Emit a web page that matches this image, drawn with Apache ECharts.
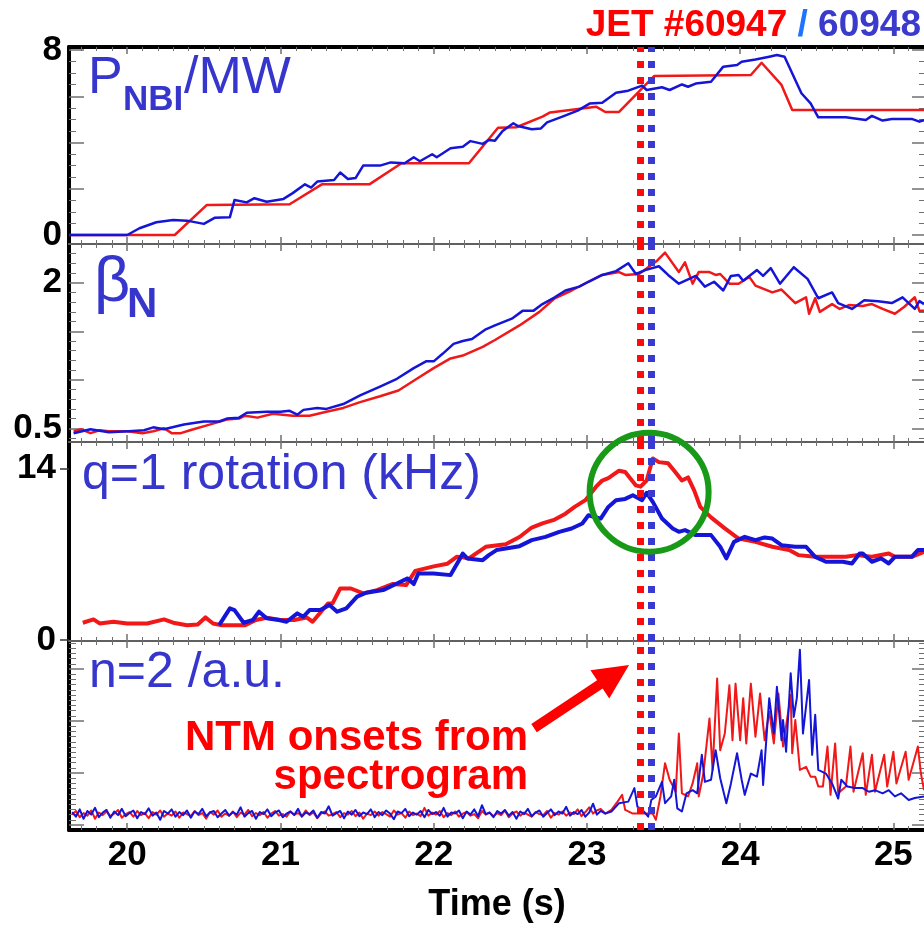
<!DOCTYPE html>
<html><head><meta charset="utf-8">
<script src="https://cdn.jsdelivr.net/npm/echarts@6/dist/echarts.min.js"></script>
<style>html,body{margin:0;padding:0;background:#fff}#c{width:924px;height:925px}</style>
</head><body><div id="c"></div>
<script>
// ---------------- DATA ----------------
const xTickLabels = [20, 21, 22, 23, 24, 25];
const onsetRed = 23.346;   // JET #60947 NTM onset (s)
const onsetBlue = 23.417;  // JET #60948 NTM onset (s)

// Panel tick labels
const pnbiYLabels = [0, 8];
const pnbiYMajor = [0, 2, 4, 6, 8];
const betaYLabels = [0.5, 2];
const betaYMajor = [0.5, 1, 1.5, 2];
const rotYLabels = [0, 14];
const rotYMajor = [0, 14];
const n2YMajor = [0, 1, 2, 3];

// P_NBI / MW
const pnbiRed = [[19.62,0],[20.31,0],[20.52,1.30],[21.06,1.33],[21.27,2.19],[21.58,2.19],[21.79,3.10],[22.23,3.10],[22.42,4.64],[22.54,4.66],[22.71,5.12],[22.76,5.30],[23.06,5.55],[23.12,5.32],[23.21,5.32],[23.36,6.34],[23.44,6.88],[24.07,6.92],[24.14,7.45],[24.27,6.49],[24.34,5.41],[25.20,5.41]];
const pnbiBlue = [[19.62,0],[20.00,0],[20.08,0.29],[20.19,0.55],[20.30,0.65],[20.39,0.62],[20.50,0.48],[20.57,0.74],[20.67,0.77],[20.70,1.51],[20.78,1.41],[20.83,1.59],[20.91,1.44],[21.02,1.56],[21.08,1.81],[21.16,2.19],[21.20,2.05],[21.24,2.31],[21.35,2.38],[21.39,2.70],[21.44,2.42],[21.49,2.46],[21.54,3.00],[21.65,3.00],[21.72,3.14],[21.81,3.10],[21.87,3.36],[21.91,3.19],[21.99,3.49],[22.02,3.36],[22.11,3.75],[22.19,3.82],[22.24,4.06],[22.32,3.94],[22.36,4.11],[22.40,4.08],[22.45,4.50],[22.52,4.83],[22.55,4.71],[22.64,4.57],[22.70,4.61],[22.74,4.87],[22.84,5.12],[22.94,5.38],[23.02,5.69],[23.10,5.72],[23.19,6.15],[23.27,6.24],[23.36,6.46],[23.39,6.27],[23.49,6.39],[23.54,6.27],[23.62,6.51],[23.66,6.41],[23.71,6.55],[23.81,6.63],[23.89,7.28],[23.98,7.35],[24.01,7.49],[24.10,7.59],[24.19,7.71],[24.24,7.78],[24.29,7.71],[24.36,6.70],[24.40,6.13],[24.46,5.69],[24.51,5.09],[24.69,5.09],[24.82,4.97],[24.86,5.15],[24.93,4.95],[24.99,5.02],[25.12,5.02],[25.17,4.90],[25.20,4.97]];

// beta_N
const betaRed = [[19.65,0.47],[19.70,0.49],[19.76,0.45],[19.82,0.48],[19.88,0.47],[20.00,0.47],[20.10,0.45],[20.17,0.47],[20.24,0.50],[20.29,0.45],[20.35,0.45],[20.41,0.48],[20.52,0.53],[20.65,0.59],[20.73,0.60],[20.77,0.63],[20.85,0.61],[20.95,0.65],[21.08,0.63],[21.19,0.63],[21.30,0.67],[21.41,0.71],[21.52,0.77],[21.65,0.83],[21.77,0.89],[21.89,1.01],[22.00,1.12],[22.11,1.22],[22.19,1.25],[22.32,1.34],[22.40,1.41],[22.56,1.56],[22.69,1.70],[22.79,1.84],[22.90,1.92],[23.01,2.01],[23.10,2.08],[23.21,2.11],[23.25,2.08],[23.34,2.09],[23.40,2.16],[23.46,2.23],[23.51,2.31],[23.60,2.11],[23.64,2.21],[23.69,1.99],[23.73,2.11],[23.80,2.11],[23.84,2.08],[23.87,2.09],[23.93,1.99],[23.99,1.99],[24.06,2.06],[24.10,1.97],[24.21,1.90],[24.27,1.93],[24.36,1.79],[24.43,1.85],[24.45,1.68],[24.49,1.84],[24.52,1.70],[24.60,1.78],[24.65,1.73],[24.71,1.77],[24.80,1.76],[24.86,1.78],[24.93,1.73],[25.01,1.68],[25.07,1.75],[25.14,1.85],[25.17,1.71],[25.20,1.71]];
const betaBlue = [[19.65,0.45],[19.76,0.49],[19.88,0.46],[20.01,0.47],[20.11,0.48],[20.17,0.51],[20.24,0.49],[20.37,0.54],[20.50,0.57],[20.60,0.57],[20.65,0.60],[20.73,0.61],[20.78,0.66],[20.91,0.67],[21.00,0.67],[21.06,0.68],[21.11,0.64],[21.15,0.69],[21.24,0.71],[21.30,0.70],[21.41,0.75],[21.52,0.84],[21.65,0.93],[21.76,1.01],[21.87,1.12],[21.95,1.19],[22.00,1.19],[22.06,1.27],[22.13,1.37],[22.19,1.40],[22.25,1.42],[22.34,1.52],[22.40,1.56],[22.51,1.63],[22.58,1.71],[22.65,1.71],[22.71,1.78],[22.79,1.85],[22.86,1.92],[22.95,1.96],[23.01,2.01],[23.10,2.08],[23.19,2.12],[23.27,2.20],[23.32,2.09],[23.38,2.13],[23.47,2.17],[23.53,2.08],[23.60,1.99],[23.71,2.07],[23.77,1.96],[23.83,2.01],[23.89,1.92],[23.94,2.07],[23.99,2.08],[24.02,2.02],[24.11,2.13],[24.15,2.07],[24.20,2.15],[24.26,1.99],[24.35,2.16],[24.44,2.04],[24.51,1.84],[24.60,1.90],[24.64,1.79],[24.73,1.73],[24.81,1.82],[24.90,1.81],[24.99,1.79],[25.06,1.85],[25.14,1.73],[25.17,1.81],[25.20,1.78]];

// q=1 rotation (kHz)
const rotRed = [[19.71,1.41],[19.78,1.68],[19.82,1.35],[19.91,1.49],[20.00,1.35],[20.13,1.35],[20.24,1.68],[20.30,1.41],[20.39,1.21],[20.46,1.26],[20.51,1.84],[20.56,1.35],[20.61,1.21],[20.69,1.21],[20.77,1.21],[20.84,1.63],[20.91,1.82],[21.00,1.63],[21.09,1.63],[21.17,1.84],[21.21,1.49],[21.31,2.98],[21.34,2.98],[21.39,4.20],[21.46,4.20],[21.54,3.80],[21.63,4.07],[21.73,4.56],[21.82,4.48],[21.88,5.64],[22.00,6.00],[22.09,6.22],[22.15,6.78],[22.19,6.75],[22.23,6.65],[22.34,7.60],[22.47,7.80],[22.56,8.40],[22.64,9.17],[22.71,9.50],[22.79,9.82],[22.86,10.30],[22.92,10.85],[22.99,11.40],[23.06,12.50],[23.10,13.00],[23.14,13.20],[23.21,13.80],[23.25,13.70],[23.32,12.60],[23.35,12.50],[23.39,13.00],[23.43,14.80],[23.47,14.50],[23.53,14.40],[23.57,13.80],[23.62,13.00],[23.66,13.25],[23.70,12.20],[23.74,10.85],[23.81,10.00],[23.90,9.10],[23.99,8.27],[24.10,8.00],[24.21,7.60],[24.32,7.33],[24.38,6.92],[24.49,6.78],[24.58,6.78],[24.69,6.78],[24.76,6.92],[24.86,6.78],[24.97,7.05],[25.01,6.78],[25.12,6.78],[25.20,7.19]];
const rotBlue = [[20.60,1.21],[20.67,2.58],[20.70,2.44],[20.76,1.41],[20.82,1.63],[20.86,2.31],[20.91,1.77],[20.99,1.63],[21.04,1.49],[21.11,2.17],[21.15,1.90],[21.19,2.44],[21.26,2.44],[21.32,2.85],[21.37,2.31],[21.43,2.58],[21.50,3.53],[21.56,3.85],[21.67,4.07],[21.76,4.61],[21.83,5.02],[21.87,4.56],[21.90,5.43],[22.00,5.43],[22.11,5.29],[22.16,6.38],[22.19,7.05],[22.22,6.65],[22.32,6.51],[22.36,6.92],[22.41,7.33],[22.47,7.46],[22.56,7.65],[22.64,8.14],[22.73,8.41],[22.82,8.82],[22.90,9.09],[22.97,9.50],[23.01,10.17],[23.09,9.90],[23.14,10.85],[23.19,11.40],[23.25,11.50],[23.30,11.80],[23.36,11.40],[23.39,12.00],[23.43,11.26],[23.49,9.90],[23.56,9.09],[23.60,8.82],[23.64,8.96],[23.71,8.55],[23.81,8.55],[23.87,7.60],[23.91,6.65],[23.96,8.00],[24.03,8.41],[24.10,8.14],[24.16,8.36],[24.21,8.27],[24.27,7.73],[24.36,7.60],[24.43,7.60],[24.49,6.78],[24.56,6.38],[24.67,6.38],[24.73,6.24],[24.78,7.05],[24.80,7.05],[24.86,6.38],[24.92,6.65],[24.97,6.24],[25.01,6.78],[25.12,6.78],[25.16,7.33],[25.20,7.33]];

// n=2 amplitude (a.u.) — pre-onset noise floor
const n2BaseTimes = [19.640,19.665,19.690,19.715,19.740,19.765,19.790,19.815,19.840,19.865,19.890,19.915,19.940,19.965,19.990,20.015,20.040,20.065,20.090,20.115,20.140,20.165,20.190,20.215,20.240,20.265,20.290,20.315,20.340,20.365,20.390,20.415,20.440,20.465,20.490,20.515,20.540,20.565,20.590,20.615,20.640,20.665,20.690,20.715,20.740,20.765,20.790,20.815,20.840,20.865,20.890,20.915,20.940,20.965,20.990,21.015,21.040,21.065,21.090,21.115,21.140,21.165,21.190,21.215,21.240,21.265,21.290,21.315,21.340,21.365,21.390,21.415,21.440,21.465,21.490,21.515,21.540,21.565,21.590,21.615,21.640,21.665,21.690,21.715,21.740,21.765,21.790,21.815,21.840,21.865,21.890,21.915,21.940,21.965,21.990,22.015,22.040,22.065,22.090,22.115,22.140,22.165,22.190,22.215,22.240,22.265,22.290,22.315,22.340,22.365,22.390,22.415,22.440,22.465,22.490,22.515,22.540,22.565,22.590,22.615,22.640,22.665,22.690,22.715,22.740,22.765,22.790,22.815,22.840,22.865,22.890,22.915,22.940,22.965,22.990,23.015,23.040,23.065,23.090];
const n2BlueBase = [0.25,0.16,0.30,0.12,0.27,0.20,0.33,0.15,0.24,0.29,0.14,0.26,0.19,0.31,0.17,0.23,0.28,0.13,0.25,0.21,0.32,0.18,0.24,0.10,0.27,0.22,0.30,0.16,0.25,0.19,0.28,0.14,0.26,0.21,0.31,0.17,0.24,0.27,0.15,0.22,0.29,0.18,0.25,0.20,0.34,0.16,0.23,0.27,0.12,0.25,0.21,0.30,0.17,0.24,0.28,0.15,0.22,0.26,0.19,0.31,0.16,0.24,0.21,0.28,0.14,0.25,0.22,0.36,0.18,0.23,0.27,0.13,0.26,0.20,0.29,0.17,0.24,0.21,0.30,0.15,0.25,0.19,0.28,0.22,0.11,0.26,0.23,0.31,0.17,0.24,0.20,0.27,0.15,0.29,0.21,0.25,0.18,0.33,0.16,0.24,0.22,0.28,0.13,0.26,0.20,0.30,0.17,0.38,0.21,0.24,0.15,0.27,0.22,0.29,0.18,0.25,0.12,0.26,0.21,0.31,0.17,0.24,0.28,0.16,0.23,0.30,0.19,0.26,0.22,0.35,0.18,0.25,0.21,0.29,0.16,0.24,0.41,0.20,0.27];
const n2RedBase = [0.20,0.27,0.15,0.23,0.18,0.28,0.12,0.24,0.19,0.26,0.17,0.22,0.29,0.14,0.21,0.25,0.16,0.27,0.19,0.23,0.13,0.25,0.20,0.28,0.16,0.22,0.18,0.26,0.14,0.24,0.21,0.17,0.27,0.19,0.23,0.12,0.25,0.20,0.28,0.16,0.22,0.18,0.26,0.15,0.24,0.20,0.29,0.17,0.23,0.19,0.25,0.14,0.22,0.27,0.18,0.21,0.16,0.26,0.20,0.23,0.17,0.28,0.19,0.24,0.13,0.22,0.26,0.18,0.21,0.25,0.15,0.23,0.20,0.27,0.17,0.24,0.12,0.22,0.19,0.26,0.18,0.25,0.21,0.16,0.28,0.20,0.23,0.14,0.26,0.19,0.22,0.17,0.33,0.18,0.24,0.20,0.27,0.15,0.23,0.19,0.26,0.16,0.22,0.25,0.18,0.21,0.13,0.27,0.20,0.24,0.17,0.23,0.19,0.28,0.15,0.22,0.26,0.18,0.24,0.20,0.16,0.25,0.21,0.19,0.27,0.14,0.23,0.20,0.26,0.18,0.24,0.21,0.30,0.17,0.25,0.34,0.22,0.28,0.31];
const n2BlueActive = [[23.12,0.22],[23.16,0.26],[23.21,0.42],[23.27,0.45],[23.31,0.71],[23.33,0.35],[23.36,0.30],[23.40,0.16],[23.42,0.48],[23.45,0.55],[23.49,0.83],[23.51,0.42],[23.55,0.55],[23.57,0.87],[23.59,0.32],[23.62,0.26],[23.65,0.61],[23.69,0.67],[23.72,0.61],[23.75,1.35],[23.77,0.83],[23.81,0.87],[23.84,1.44],[23.87,0.90],[23.91,0.42],[23.94,0.80],[23.98,1.38],[24.01,0.87],[24.03,0.58],[24.07,0.99],[24.11,0.93],[24.14,1.44],[24.15,0.77],[24.19,2.44],[24.22,1.76],[24.24,2.66],[24.27,1.63],[24.28,2.02],[24.30,1.41],[24.33,2.92],[24.35,2.08],[24.37,2.44],[24.39,3.37],[24.41,1.76],[24.45,2.79],[24.47,1.35],[24.49,2.12],[24.51,1.06],[24.56,0.99],[24.60,0.80],[24.64,0.51],[24.66,0.87],[24.70,0.74],[24.75,0.71],[24.80,0.71],[24.84,0.64],[24.88,0.67],[24.93,0.61],[24.97,0.67],[25.01,0.55],[25.05,0.61],[25.10,0.48],[25.14,0.52],[25.20,0.55]];
const n2RedActive = [[23.12,0.22],[23.16,0.29],[23.20,0.45],[23.23,0.58],[23.25,0.29],[23.30,0.22],[23.37,0.22],[23.43,0.22],[23.45,0.10],[23.48,0.55],[23.51,1.19],[23.54,0.87],[23.58,0.64],[23.60,1.76],[23.62,0.61],[23.66,0.55],[23.69,0.80],[23.72,1.19],[23.73,0.55],[23.76,0.99],[23.80,2.05],[23.82,1.06],[23.85,2.82],[23.87,1.44],[23.90,1.76],[23.93,2.69],[23.95,1.63],[23.97,2.72],[24.00,1.63],[24.02,2.44],[24.04,1.57],[24.07,2.72],[24.10,1.70],[24.13,2.53],[24.16,1.63],[24.19,2.18],[24.22,1.57],[24.25,2.53],[24.28,1.51],[24.33,2.50],[24.34,1.38],[24.36,2.02],[24.39,1.06],[24.43,1.12],[24.46,0.93],[24.49,0.93],[24.51,0.74],[24.54,0.74],[24.57,1.51],[24.59,0.58],[24.62,1.57],[24.64,0.61],[24.69,0.74],[24.72,1.51],[24.74,0.64],[24.80,1.38],[24.82,0.58],[24.86,1.35],[24.88,0.64],[24.94,1.35],[24.96,0.74],[25.00,1.41],[25.02,0.80],[25.08,1.41],[25.10,0.87],[25.16,1.51],[25.18,0.99],[25.20,0.67]];

// ---------------- CHART ----------------
const RED = '#f01818', BLUE = '#1515d8', LBLUE = '#3636cc';
const FONT = 'Liberation Sans, Arial, sans-serif';
const X_MIN = 19.62, X_MAX = 25.2;

function steps(a, b, st, exclude) {
  const out = [];
  for (let k = 0; a + k * st <= b + 1e-9; k++) {
    const v = Math.round((a + k * st) * 1000) / 1000;
    if (!exclude.some(e => Math.abs(e - v) < 1e-6)) out.push(v);
  }
  return out;
}
const xMinor = steps(19.7, 25.1, 0.1, xTickLabels);

const n2Blue = n2BaseTimes.map((t, k) => [t, n2BlueBase[k]]).concat(n2BlueActive);
const n2Red = n2BaseTimes.map((t, k) => [t, n2RedBase[k]]).concat(n2RedActive);

const panels = [
  {top: 47, height: 197, yMin: -0.39, yMax: 8.13, labels: pnbiYLabels, major: pnbiYMajor, minor: steps(0.5, 7.5, 0.5, pnbiYMajor), lw: 2.5, red: pnbiRed, blue: pnbiBlue, outTicks: false, margin: 7, right: true},
  {top: 244, height: 198, yMin: 0.359, yMax: 2.399, labels: betaYLabels, major: betaYMajor, minor: steps(0.4, 2.3, 0.1, betaYMajor), lw: 2.5, red: betaRed, blue: betaBlue, outTicks: false, margin: 7, right: true},
  {top: 442, height: 199, yMin: -0.08, yMax: 16.14, labels: rotYLabels, major: rotYMajor, minor: [], lw: 4, red: rotRed, blue: rotBlue, outTicks: true, margin: 13, right: false},
  {top: 641, height: 189, yMin: -0.096, yMax: 3.54, labels: [], major: n2YMajor, minor: steps(0, 3.5, 0.1, n2YMajor), lw: 2, red: n2Red, blue: n2Blue, outTicks: false, margin: 7, right: true}
];

const grids = [], xAxes = [], yAxes = [], series = [];
const tickCol = '#707070';
panels.forEach((p, i) => {
  grids.push({left: 69, top: p.top, width: 855, height: p.height});
  const botCol = i === 3 ? '#000' : '#606060', botW = i === 3 ? 4 : 2;
  const topCol = i === 0 ? '#000' : '#606060', topW = i === 0 ? 4 : 2;
  const base = {gridIndex: i, type: 'value', min: X_MIN, max: X_MAX, splitLine: {show: false}};
  xAxes.push(Object.assign({}, base, {position: 'bottom',
    axisLine: {show: true, onZero: false, lineStyle: {color: botCol, width: botW}},
    axisTick: {show: true, inside: true, length: 7, customValues: xTickLabels, lineStyle: {color: tickCol, width: 1.5}},
    axisLabel: {show: i === 3, customValues: xTickLabels, margin: 8, fontSize: 35, fontWeight: 'bold', fontFamily: FONT, color: '#000'}}));
  xAxes.push(Object.assign({}, base, {position: 'bottom',
    axisLine: {show: false, onZero: false},
    axisTick: {show: true, inside: true, length: 4, customValues: xMinor, lineStyle: {color: tickCol, width: 1}},
    axisLabel: {show: false}}));
  xAxes.push(Object.assign({}, base, {position: 'top',
    axisLine: {show: true, onZero: false, lineStyle: {color: topCol, width: topW}},
    axisTick: {show: true, inside: true, length: 7, customValues: xTickLabels, lineStyle: {color: tickCol, width: 1.5}},
    axisLabel: {show: false}}));
  xAxes.push(Object.assign({}, base, {position: 'top',
    axisLine: {show: false, onZero: false},
    axisTick: {show: true, inside: true, length: 4, customValues: xMinor, lineStyle: {color: tickCol, width: 1}},
    axisLabel: {show: false}}));

  const yb = {gridIndex: i, type: 'value', min: p.yMin, max: p.yMax, splitLine: {show: false}};
  yAxes.push(Object.assign({}, yb, {position: 'left',
    axisLine: {show: true, onZero: false, lineStyle: {color: '#000', width: 4}},
    axisTick: {show: true, inside: !p.outTicks, length: p.outTicks ? 9 : 15, customValues: p.major, lineStyle: {color: p.outTicks ? '#333' : tickCol, width: 1.5}},
    axisLabel: {show: p.labels.length > 0, customValues: p.labels, margin: p.margin, fontSize: 35, fontWeight: 'bold', fontFamily: FONT, color: '#000'}}));
  yAxes.push(Object.assign({}, yb, {position: 'left',
    axisLine: {show: false, onZero: false},
    axisTick: {show: p.minor.length > 0, inside: true, length: 7, customValues: p.minor.length ? p.minor : [p.yMin], lineStyle: {color: tickCol, width: 1}},
    axisLabel: {show: false}}));
  yAxes.push(Object.assign({}, yb, {position: 'right',
    axisLine: {show: false, onZero: false},
    axisTick: {show: p.right, inside: true, length: 12, customValues: p.major, lineStyle: {color: tickCol, width: 1.5}},
    axisLabel: {show: false}}));
  yAxes.push(Object.assign({}, yb, {position: 'right',
    axisLine: {show: false, onZero: false},
    axisTick: {show: p.right && p.minor.length > 0, inside: true, length: 5, customValues: p.minor.length ? p.minor : [p.yMin], lineStyle: {color: tickCol, width: 1}},
    axisLabel: {show: false}}));

  const ax = {xAxisIndex: i * 4, yAxisIndex: i * 4};
  series.push(Object.assign({type: 'line', name: 'JET #60947', data: p.red, symbol: 'none', showSymbol: false, silent: true, z: 2,
    lineStyle: {color: RED, width: p.lw, join: 'round'}}, ax));
  series.push(Object.assign({type: 'line', name: 'JET #60948', data: p.blue, symbol: 'none', showSymbol: false, silent: true, z: 3,
    lineStyle: {color: BLUE, width: p.lw, join: 'round'}}, ax));
  series.push(Object.assign({type: 'line', data: [], symbol: 'none', silent: true, z: 6,
    markLine: {silent: true, symbol: ['none', 'none'], animation: false, label: {show: false},
      data: [
        {xAxis: onsetRed, lineStyle: {color: '#ff0a0a', width: 7, type: [7, 9], cap: 'butt'}},
        {xAxis: onsetBlue, lineStyle: {color: '#3a3ad0', width: 7, type: [7, 9], cap: 'butt'}}
      ]}}, ax));
});

const chart = echarts.init(document.getElementById('c'), null, {renderer: 'canvas'});
chart.setOption({
  animation: false,
  backgroundColor: '#ffffff',
  grid: grids, xAxis: xAxes, yAxis: yAxes, series: series
});

// ---------------- ANNOTATIONS ----------------
const circC = chart.convertToPixel({seriesIndex: 6}, [23.406, 12.05]);
const aTail = chart.convertToPixel({seriesIndex: 9}, [22.655, 1.865]);
const aTip = chart.convertToPixel({seriesIndex: 9}, [23.275, 3.077]);
const dx = aTip[0] - aTail[0], dy = aTip[1] - aTail[1];
const L = Math.hypot(dx, dy), ux = dx / L, uy = dy / L, nx = -uy, ny = ux;
const headLen = 35, headW = 17, shaftW = 5;
const bx = aTip[0] - ux * headLen, by = aTip[1] - uy * headLen;
const arrowPts = [
  [aTail[0] + nx * shaftW, aTail[1] + ny * shaftW],
  [bx + nx * shaftW, by + ny * shaftW],
  [bx + nx * headW, by + ny * headW],
  [aTip[0], aTip[1]],
  [bx - nx * headW, by - ny * headW],
  [bx - nx * shaftW, by - ny * shaftW],
  [aTail[0] - nx * shaftW, aTail[1] - ny * shaftW]
];

function txt(text, x, y, size, color, weight, align) {
  return {type: 'text', x: x, y: y, z: 20, silent: true,
    style: {text: text, fontSize: size, fontFamily: FONT, fontWeight: weight || 'normal', fill: color, align: align || 'left', verticalAlign: 'middle'}};
}

chart.setOption({
  graphic: [
    {type: 'text', x: 921, y: 26, z: 20, silent: true,
      style: {text: '{r|JET #60947} {s|/} {b|60948}', align: 'right', verticalAlign: 'middle',
        fontSize: 37, fontWeight: 'bold', fontFamily: FONT, fill: '#ff0000',
        rich: {r: {fontSize: 37, fontWeight: 'bold', fontFamily: FONT, fill: '#ff0000'},
               s: {fontSize: 37, fontWeight: 'bold', fontFamily: FONT, fill: '#1e74ff'},
               b: {fontSize: 37, fontWeight: 'bold', fontFamily: FONT, fill: '#3a3acc'}}}},
    txt('P', 88, 79, 52, LBLUE),
    txt('NBI', 123, 100, 35, LBLUE, 'bold'),
    txt('/MW', 184, 79, 52, LBLUE),
    txt('β', 94, 284, 63, LBLUE),
    txt('N', 127, 305, 42, LBLUE, 'bold'),
    txt('q=1 rotation (kHz)', 82, 475, 50, LBLUE),
    txt('n=2 /a.u.', 89, 673, 50, LBLUE),
    txt('NTM onsets from', 528, 738, 42, '#ff0000', 'bold', 'right'),
    txt('spectrogram', 528, 777, 42, '#ff0000', 'bold', 'right'),
    txt('Time (s)', 497, 905, 36, '#000', 'bold', 'center'),
    {type: 'circle', z: 15, silent: true, shape: {cx: circC[0], cy: circC[1], r: 59.5},
      style: {fill: 'none', stroke: '#189a18', lineWidth: 6}},
    {type: 'polygon', z: 15, silent: true, shape: {points: arrowPts}, style: {fill: '#ff0000'}}
  ]
});
</script>
</body></html>
